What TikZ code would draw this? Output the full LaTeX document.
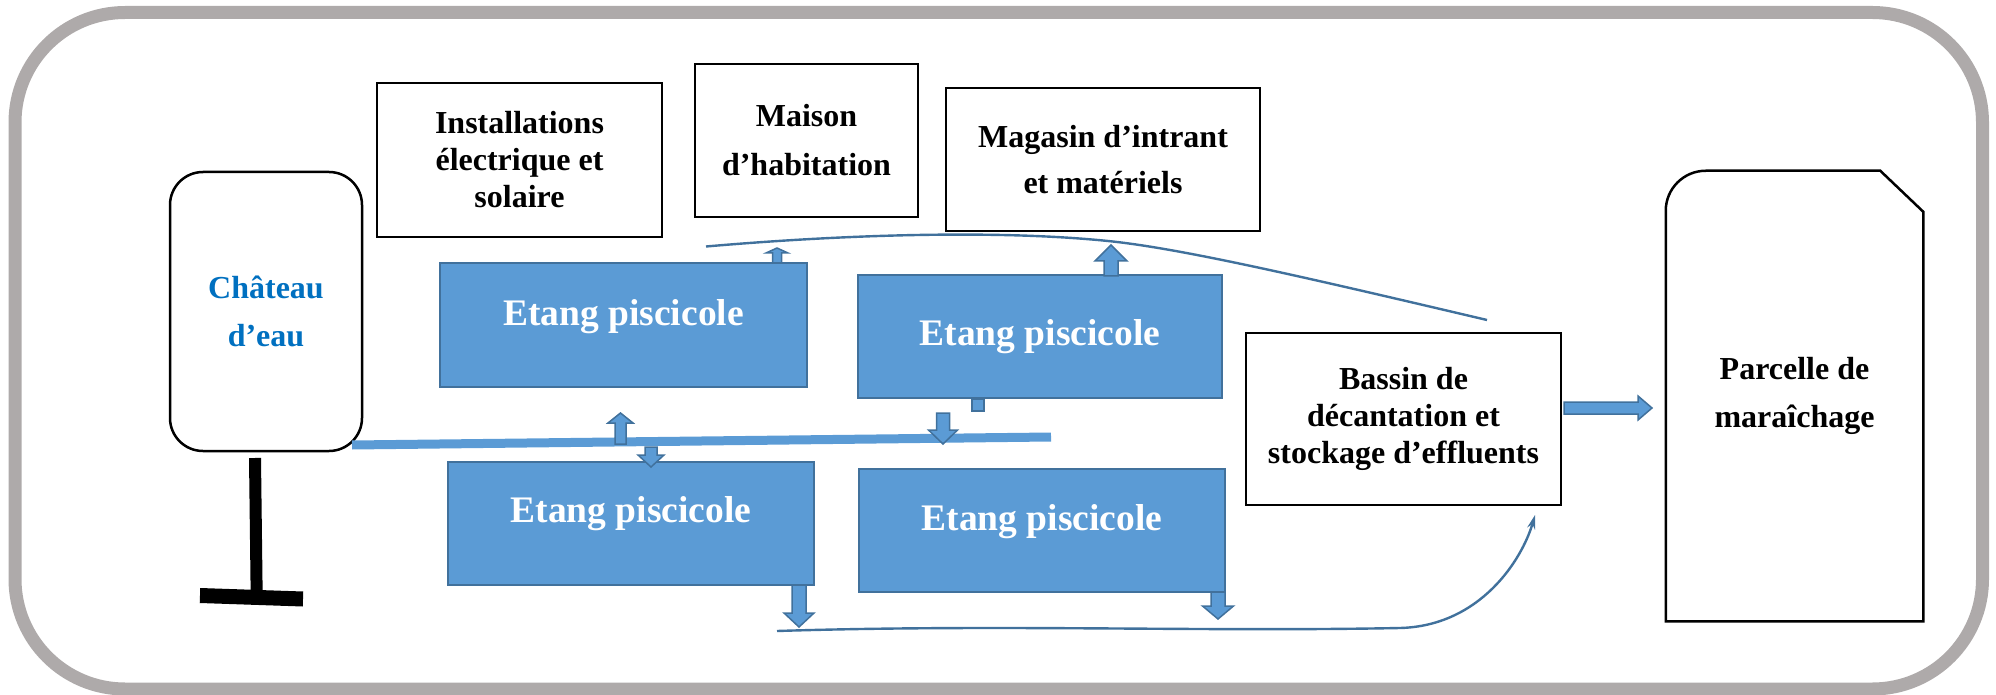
\documentclass[tikz,border=0pt]{standalone}
\usepackage{fontspec}
\setmainfont{Liberation Serif}
\usetikzlibrary{arrows.meta,calc}
\definecolor{framegray}{HTML}{AEAAAA}
\definecolor{pondfill}{HTML}{5B9BD5}
\definecolor{pondedge}{HTML}{41719C}
\definecolor{flowline}{HTML}{41719C}
\definecolor{towertext}{HTML}{0070C0}

\begin{document}
\begin{tikzpicture}[x=0.5pt,y=-0.5pt,
  label box/.style={draw=black, line width=1.25pt, fill=white, inner sep=0pt,
    align=center, font=\bfseries\fontsize{16}{18.5}\selectfont},
  pond/.style={draw=pondedge, line width=1pt, fill=pondfill, inner sep=0pt,
    text=white, font=\bfseries\fontsize{18.75}{22}\selectfont,
    minimum width=183pt, minimum height=61.5pt},
  blockarrow/.style={draw=pondedge, line width=0.75pt, fill=pondfill, line join=miter},
  flow/.style={draw=flowline, line width=1.2pt},
  pics/barrow/.style args={#1/#2/#3/#4}{code={
    \path[blockarrow] (0,-#2) -- (#1-#4,-#2) -- (#1-#4,-#3) -- (#1,0)
      -- (#1-#4,#3) -- (#1-#4,#2) -- (0,#2) -- cycle;}}
]
\useasboundingbox (0,0) rectangle (1996,695);

% outer frame
\draw[framegray, line width=6.5pt, rounded corners=55pt] (15,12.5) rectangle (1982.5,689);

% buildings and basins
\node[label box, minimum width=142.5pt, minimum height=77pt] (inst) at (519.5,160)
  {Installations\\électrique et\\solaire};
\node[label box, minimum width=111.5pt, minimum height=76.5pt,
  font=\bfseries\fontsize{16}{24.5}\selectfont] (maison) at (806.5,140.5)
  {Maison\\d’habitation};
\node[label box, minimum width=157pt, minimum height=71.5pt,
  font=\bfseries\fontsize{16}{23}\selectfont] (magasin) at (1103,159.5)
  {Magasin d’intrant\\et matériels};
\node[label box, minimum width=157.5pt, minimum height=86pt] (bassin) at (1403.5,419)
  {Bassin de\\décantation et\\stockage d’effluents};

% water tower and its stand
\node[label box, rounded corners=16.5pt, minimum width=96pt, minimum height=139.5pt,
  text=towertext, font=\bfseries\fontsize{16}{24}\selectfont] (tower) at (266,311.5)
  {Château\\d’eau};
\draw[line width=6pt] (255,458) -- (256.7,597);
\draw[line width=7.5pt] (200,595.5) -- (303,599);

% vegetable plot (cut corner outline)
\node[label box, draw=none, fill=none, minimum width=127.5pt, minimum height=224pt,
  font=\bfseries\fontsize{16}{24}\selectfont] (parcelle) at (1794.5,396)
  {Parcelle de\\maraîchage};
\draw[line width=1.25pt, line join=miter]
  (parcelle.south west) -- ([yshift=-20pt]parcelle.north west)
  arc[start angle=180, end angle=90, radius=20pt]
  -- ([xshift=-21.5pt]parcelle.north east)
  -- ([yshift=-20.5pt]parcelle.north east)
  -- (parcelle.south east) -- cycle;

% fish ponds
\node[pond, minimum width=183.5pt, minimum height=62pt, text height=8pt, text depth=8pt]
  (pondA) at (623.5,325) {Etang piscicole};
\node[pond, minimum width=182pt, text height=13pt, text depth=4.5pt]
  (pondB) at (1040,336.5) {Etang piscicole};
\node[pond, text height=8pt, text depth=9.5pt]
  (pondC) at (631,523.5) {Etang piscicole};
\node[pond, text height=8pt, text depth=8.5pt]
  (pondD) at (1042,530.5) {Etang piscicole};
\path[blockarrow] (972,399) rectangle (984,411);

% supply pipe from the tower
\coordinate (pipeW) at (352,445);
\coordinate (pipeE) at (1051,437);
\draw[pondfill, line width=4.5pt] (pipeW) -- (pipeE);

% block arrows between pipe, ponds and buildings
\pic[rotate=90]  at (620.5,444) {barrow=31/5.5/12.5/10};
\pic[rotate=-90] at (651,447)   {barrow=20/6/13/12};
\pic[rotate=90]  at (777,263)   {barrow=15/4.5/11/5};
\pic[rotate=90]  at (1111,276)  {barrow=31/7/16/16};
\pic[rotate=-90] at (943,413)   {barrow=31/6.5/14.5/14};
\pic[rotate=-90] at (799,585)   {barrow=42/7/15/14};
\pic[rotate=-90] at (1218,592)  {barrow=27/7/15.5/13};
\pic             at (1564,408)  {barrow=88/6/12/14};

% upper flow line
\coordinate (topflowW) at (706,246.5);
\coordinate (topflowE) at (1487,320);
\draw[flow] (topflowW) .. controls (850,234) and (1000,230) .. (1108,241)
  .. controls (1180,248.3) and (1300,276) .. (topflowE);

% drain line towards the settling basin
\coordinate (drainW) at (777,631);
\coordinate (drainE) at (1535,515);
\draw[flow, -{Stealth[length=7pt,width=4pt]}] (drainW)
  .. controls (1000,624) and (1200,632) .. (1400,628)
  .. controls (1480,626) and (1522,560) .. (drainE);
\end{tikzpicture}
\end{document}
